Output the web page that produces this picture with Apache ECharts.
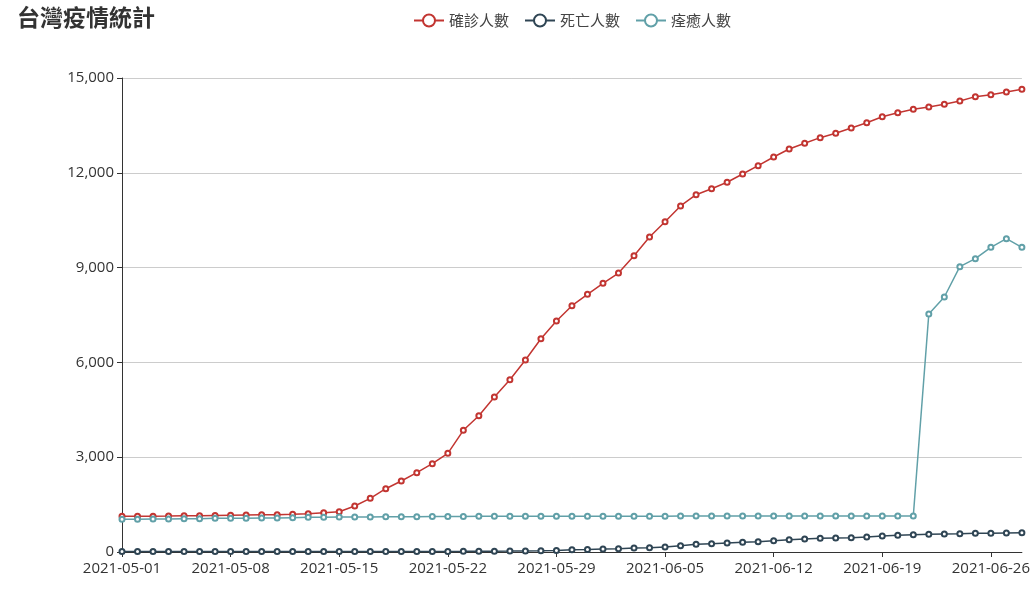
<!DOCTYPE html>
<html>
<head>
<meta charset="utf-8">
<style>
html,body{margin:0;padding:0;background:#fff;}
#chart{width:1033px;height:591px;}
</style>
<script src="https://cdn.jsdelivr.net/npm/echarts@6/dist/echarts.min.js"></script>
</head>
<body>
<div id="chart"></div>
<script>
const titleText = '台灣疫情統計';
const seriesNames = ['確診人數', '死亡人數', '痊癒人數'];
const dates = [
  '2021-05-01','2021-05-02','2021-05-03','2021-05-04','2021-05-05','2021-05-06','2021-05-07',
  '2021-05-08','2021-05-09','2021-05-10','2021-05-11','2021-05-12','2021-05-13','2021-05-14',
  '2021-05-15','2021-05-16','2021-05-17','2021-05-18','2021-05-19','2021-05-20','2021-05-21',
  '2021-05-22','2021-05-23','2021-05-24','2021-05-25','2021-05-26','2021-05-27','2021-05-28',
  '2021-05-29','2021-05-30','2021-05-31','2021-06-01','2021-06-02','2021-06-03','2021-06-04',
  '2021-06-05','2021-06-06','2021-06-07','2021-06-08','2021-06-09','2021-06-10','2021-06-11',
  '2021-06-12','2021-06-13','2021-06-14','2021-06-15','2021-06-16','2021-06-17','2021-06-18',
  '2021-06-19','2021-06-20','2021-06-21','2021-06-22','2021-06-23','2021-06-24','2021-06-25',
  '2021-06-26','2021-06-27','2021-06-28'
];
const confirmed = [
  1132, 1132, 1135, 1139, 1145, 1150, 1158, 1166, 1171, 1176, 1181, 1192, 1213, 1245,
  1276, 1456, 1699, 2003, 2247, 2510, 2795, 3123, 3851, 4313, 4905, 5453, 6076, 6750,
  7310, 7795, 8155, 8503, 8829, 9377, 9968, 10453, 10950, 11307, 11497, 11700, 11962, 12225,
  12500, 12753, 12933, 13112, 13250, 13418, 13586, 13776, 13903, 14010, 14082, 14167, 14272, 14410,
  14472, 14557, 14642
];
const deaths = [
  12, 12, 12, 12, 12, 12, 12, 12, 12, 12, 12, 12, 12, 12,
  12, 12, 12, 13, 13, 15, 17, 19, 21, 24, 26, 29, 35, 37,
  50, 68, 79, 95, 105, 127, 137, 158, 200, 243, 264, 285, 306, 327,
  358, 390, 411, 432, 443, 453, 475, 506, 527, 548, 559, 570, 580, 591,
  591, 601, 612
];
const recovered = [
  1035, 1035, 1044, 1044, 1055, 1055, 1066, 1066, 1066, 1076, 1076, 1086, 1097, 1097,
  1108, 1108, 1108, 1117, 1117, 1117, 1122, 1124, 1126, 1128, 1128, 1130, 1130, 1130,
  1132, 1132, 1132, 1134, 1134, 1134, 1135, 1135, 1136, 1136, 1136, 1137, 1137, 1138,
  1138, 1138, 1138, 1139, 1139, 1139, 1139, 1139, 1139, 1139, 7532, 8070, 9029, 9282,
  9642, 9916, 9642
];
const yTicks = { min: 0, max: 15000, interval: 3000 };
const colors = ['#c23531', '#2f4554', '#61a0a8'];

const chart = echarts.init(document.getElementById('chart'));
const font = '"Open Sans", "Noto Sans CJK TC", sans-serif';
function mk(name, data, color) {
  return {
    name: name, type: 'line', data: data,
    symbol: 'emptyCircle', symbolSize: 5, showSymbol: true,
    lineStyle: { width: 1.5, color: color },
    itemStyle: { color: color, borderColor: color, borderWidth: 1.5 },
    animation: false
  };
}
chart.setOption({
  color: colors,
  animation: false,
  textStyle: { fontFamily: font },
  title: {
    text: titleText, left: 12, top: 1,
    textStyle: { fontSize: 23, fontWeight: 'bold', color: '#333', fontFamily: '"Noto Sans CJK TC", sans-serif' }
  },
  legend: {
    top: 8, left: 408, itemWidth: 30, itemHeight: 15, itemGap: 15,
    textStyle: { fontSize: 15, color: '#444', fontFamily: '"Noto Sans CJK TC", sans-serif' },
    data: seriesNames
  },
  grid: { left: 122, right: 11, top: 78, bottom: 39, containLabel: false },
  xAxis: {
    type: 'category', data: dates, boundaryGap: false,
    axisLine: { lineStyle: { color: '#333' } },
    axisTick: { interval: 6, lineStyle: { color: '#333' } },
    axisLabel: { interval: 6, color: '#333', fontSize: 15, margin: 9 }
  },
  yAxis: {
    type: 'value', min: yTicks.min, max: yTicks.max, interval: yTicks.interval,
    axisLine: { show: true, lineStyle: { color: '#333' } },
    axisTick: { show: true, lineStyle: { color: '#333' } },
    axisLabel: { color: '#333', fontSize: 15, margin: 8,
      formatter: v => v.toLocaleString('en-US') },
    splitLine: { lineStyle: { color: '#ccc' } }
  },
  series: [
    mk(seriesNames[0], confirmed, colors[0]),
    mk(seriesNames[1], deaths, colors[1]),
    mk(seriesNames[2], recovered, colors[2])
  ]
});
</script>
</body>
</html>
